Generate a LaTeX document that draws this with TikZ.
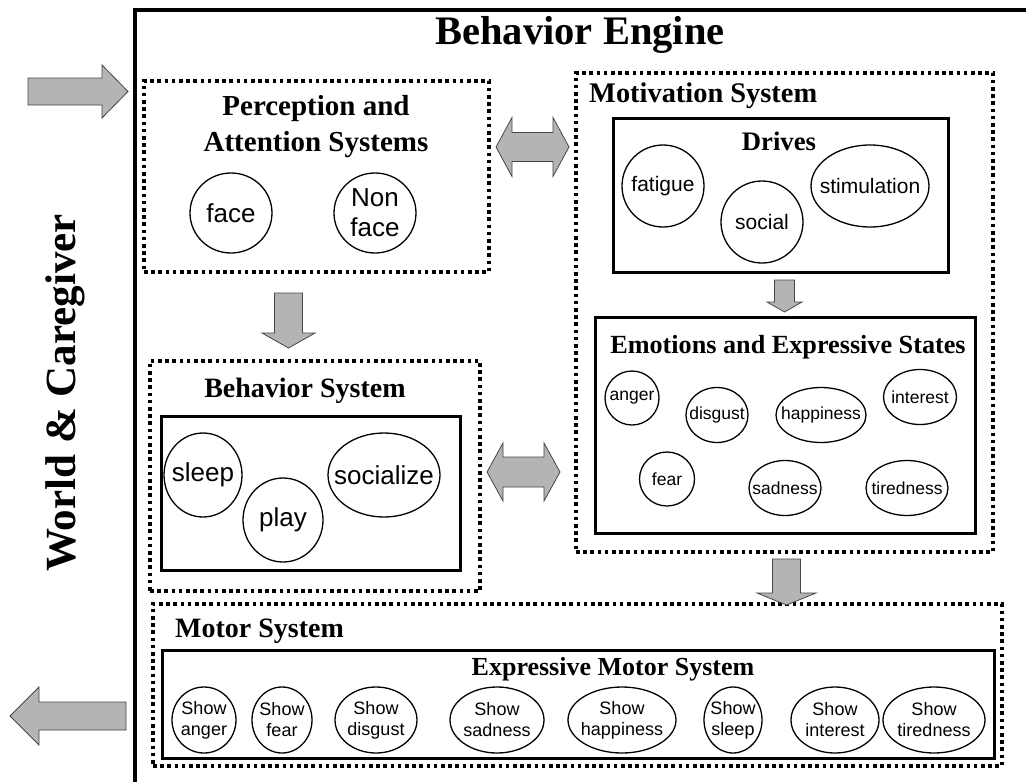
\documentclass[tikz,border=0pt]{standalone}
\usepackage{fontspec}
\setmainfont{Liberation Serif}
\setsansfont{Liberation Sans}
\usetikzlibrary{shapes.geometric,calc}
\definecolor{arrowgray}{RGB}{180,180,180}
\definecolor{arrowedge}{RGB}{70,70,70}
\begin{document}
\begin{tikzpicture}[x=1pt,y=-1pt,
  % dotted system panels and solid sub-system frames
  panel/.style n args={2}{draw, rectangle, line width=3.6pt, dash pattern=on 3.6pt off 3.6pt,
    inner sep=0pt, minimum width=#1pt, minimum height=#2pt},
  frame/.style n args={2}{draw, rectangle, line width=3pt, inner sep=0pt,
    minimum width=#1pt, minimum height=#2pt},
  bub/.style n args={2}{draw, ellipse, line width=1.3pt, inner sep=0pt,
    minimum width=#1pt, minimum height=#2pt},
  tag/.style n args={2}{label={[#1]center:{#2}}},
  % text styles
  headline/.style={font=\bfseries\fontsize{40.5}{42}\selectfont, inner sep=0pt},
  systitle/.style={font=\bfseries\fontsize{#1}{36}\selectfont, inner sep=0pt, align=center},
  systitle/.default=28,
  big/.style={font=\sffamily\fontsize{26}{30}\selectfont, inner sep=0pt, align=center},
  mid/.style={font=\sffamily\fontsize{21}{24}\selectfont, inner sep=0pt, align=center},
  small/.style={font=\sffamily\fontsize{17.5}{20}\selectfont, inner sep=0pt, align=center},
  motor/.style={font=\sffamily\fontsize{18}{21}\selectfont, inner sep=0pt, align=center},
  % block arrows: length / head length / shaft half width / head half width
  pics/blockarrow/.style args={#1/#2/#3/#4}{code={
    \draw[fill=arrowgray, draw=arrowedge, line width=0.8pt, line join=miter]
      (0,-#3) -- (#1-#2,-#3) -- (#1-#2,-#4) -- (#1,0) -- (#1-#2,#4) -- (#1-#2,#3) -- (0,#3) -- cycle;
  }},
  pics/twinarrow/.style args={#1/#2/#3/#4}{code={
    \draw[fill=arrowgray, draw=arrowedge, line width=0.8pt, line join=miter]
      (0,0) -- (#2,-#4) -- (#2,-#3) -- (#1-#2,-#3) -- (#1-#2,-#4) -- (#1,0)
      -- (#1-#2,#4) -- (#1-#2,#3) -- (#2,#3) -- (#2,#4) -- cycle;
  }},
]
\useasboundingbox (0,0) rectangle (1026,782);

% engine frame (open on the right and at the bottom)
\draw[line width=4pt, line join=miter] (135,782) -- (135,10) -- (1026,10);
\node[headline, anchor=base] (engine) at (580,44) {Behavior Engine};

% outside world
\node[font=\bfseries\fontsize{43}{46}\selectfont, inner sep=0pt, rotate=90, anchor=base]
  (world) at (75,393) {World \& Caregiver};

% perception
\node[panel={345}{191}] (perc) at (316.5,176.5) {};
\node[systitle=29] (perct) at (316,127) {Perception and\\Attention Systems};
\node[bub={82}{80}, tag={big}{face}] (face) at (231,213) {};
\node[bub={82}{80}, tag={big}{Non\\face}] (nonface) at (375,213) {};

% motivation
\node[panel={417}{479}] (motiv) at (784.5,312.5) {};
\node[systitle=28.4, anchor=base west] (motivt) at (589,102) {Motivation System};
\node[frame={335}{154}] (drives) at (780.5,195) {};
\node[systitle=26.7, anchor=base] (drivest) at (779,150) {Drives};
\node[bub={82}{82}, tag={mid}{fatigue}] (fatigue) at (663,186) {};
\node[bub={82}{82}, tag={mid}{social}] (social) at (762,222) {};
\node[bub={118}{82}, tag={mid}{stimulation}] (stim) at (870,186) {};

\node[frame={380}{216}] (emo) at (785,425) {};
\node[systitle=26.2, anchor=base] (emot) at (788,353) {Emotions and Expressive States};
\node[bub={54}{54}, tag={small}{anger}] (anger) at (632,398) {};
\node[bub={62}{55}, tag={small}{disgust}] (disgust) at (717,415) {};
\node[bub={90}{55}, tag={small}{happiness}] (happy) at (821,415) {};
\node[bub={73}{55}, tag={small}{interest}] (interest) at (920,397) {};
\node[bub={55}{54}, tag={small}{fear}] (fear) at (667,479) {};
\node[bub={72}{55}, tag={small}{sadness}] (sad) at (785,488) {};
\node[bub={82}{55}, tag={small}{tiredness}] (tired) at (907,488) {};

% behavior
\node[panel={330}{230}] (behav) at (315,476) {};
\node[systitle=28, anchor=base] (behavt) at (305,397) {Behavior System};
\node[frame={299}{154}] (behavin) at (310.5,493) {};
\node[bub={78}{84}, tag={big}{sleep}] (sleep) at (203,475) {};
\node[bub={80}{84}, tag={big}{play}] (play) at (283,520) {};
\node[bub={112}{84}, tag={big}{socialize}] (socialize) at (384,475) {};

% motor
\node[panel={849}{162}] (motor) at (577.5,685) {};
\node[systitle=28, anchor=base west] (motort) at (175,637) {Motor System};
\node[frame={832}{108}] (expr) at (578,704) {};
\node[systitle=26, anchor=base] (exprt) at (613,675) {Expressive Motor System};
\node[bub={64}{66}, tag={motor}{Show\\anger}] (sanger) at (204,720) {};
\node[bub={60}{66}, tag={motor}{Show\\fear}] (sfear) at (282,720) {};
\node[bub={82}{66}, tag={motor}{Show\\disgust}] (sdisgust) at (376,720) {};
\node[bub={94}{66}, tag={motor}{Show\\sadness}] (ssad) at (497,720) {};
\node[bub={108}{66}, tag={motor}{Show\\happiness}] (shappy) at (622,720) {};
\node[bub={58}{66}, tag={motor}{Show\\sleep}] (ssleep) at (733,720) {};
\node[bub={88}{66}, tag={motor}{Show\\interest}] (sinterest) at (835,720) {};
\node[bub={102}{66}, tag={motor}{Show\\tiredness}] (stired) at (934,720) {};

% block arrows between the systems
\pic at (28,91.5) {blockarrow={100/26/13.5/26.5}};
\pic[rotate=180] at (126,716) {blockarrow={116/29/14/29}};
\pic[rotate=-90] at (288.5,293) {blockarrow={55/15/14/26.5}};
\pic[rotate=-90] at (784.5,280) {blockarrow={32/10/10/17.5}};
\pic[rotate=-90] at (786.5,559) {blockarrow={46/12/14/29.5}};
\pic at (496,147) {twinarrow={73/16/14.5/29.5}};
\pic at (487,472) {twinarrow={73/16/15/29}};
\end{tikzpicture}
\end{document}
